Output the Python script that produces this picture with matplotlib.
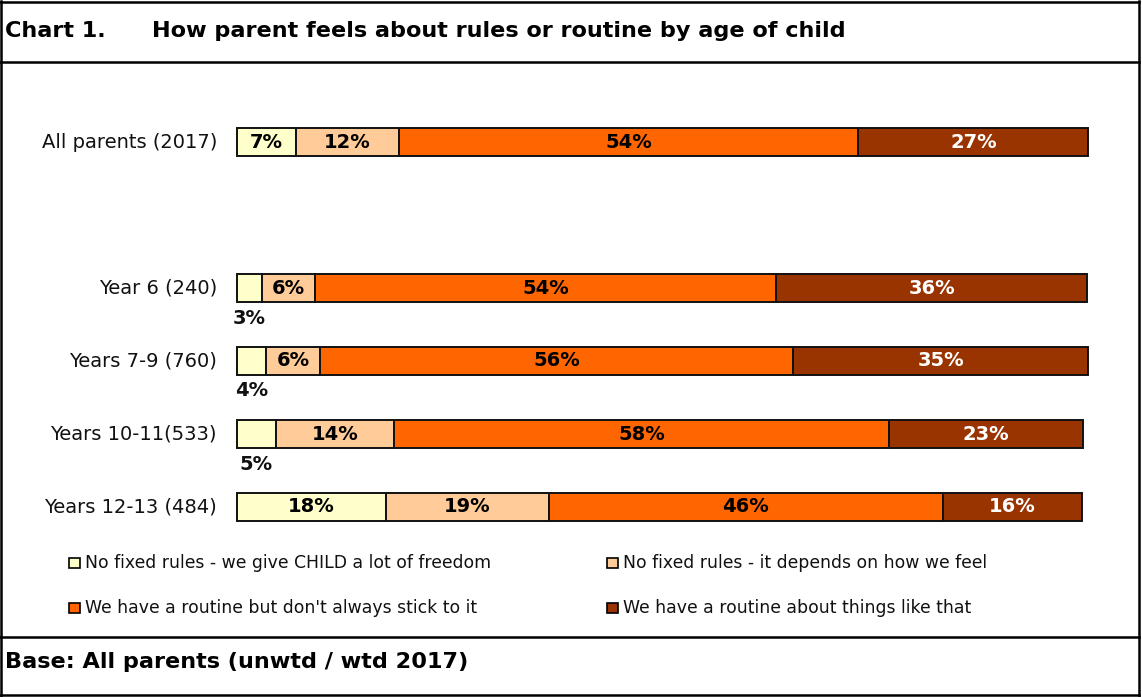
import matplotlib
matplotlib.use("Agg")
import matplotlib.pyplot as plt
from matplotlib.patches import Rectangle
from matplotlib.lines import Line2D

# ---- data ----
categories = ["All parents (2017)", "Year 6 (240)", "Years 7-9 (760)",
              "Years 10-11(533)", "Years 12-13 (484)"]
slots = [0, 2, 3, 4, 5]
series_names = ["No fixed rules - we give CHILD a lot of freedom",
                "No fixed rules - it depends on how we feel",
                "We have a routine but don't always stick to it",
                "We have a routine about things like that"]
free_vals = [7.0, 3.0, 3.5, 4.6, 17.5]
depends_vals = [12.0, 6.2, 6.3, 13.9, 19.1]
routine_loose_vals = [53.9, 54.1, 55.5, 58.0, 46.2]
routine_vals = [27.0, 36.4, 34.6, 22.8, 16.4]
free_labels = ["7%", "3%", "4%", "5%", "18%"]
depends_labels = ["12%", "6%", "6%", "14%", "19%"]
routine_loose_labels = ["54%", "54%", "56%", "58%", "46%"]
routine_labels = ["27%", "36%", "35%", "23%", "16%"]

colors = ["#FFFFCC", "#FFCC99", "#FF6600", "#993300"]
text_colors = ["black", "black", "black", "white"]

W, H = 1142, 697
fig = plt.figure(figsize=(W / 100, H / 100), dpi=100)

# axes: x 0..100 -> px 236.5..1089.3 ; slot p -> y px 142 + 73 p
ax_top, ax_bot = 100, 540
ax = fig.add_axes([236.5 / W, 1 - ax_bot / H, (1089.3 - 236.5) / W, (ax_bot - ax_top) / H])
ax.set_xlim(0, 100)
ax.set_ylim((ax_bot - 142) / 73, (ax_top - 142) / 73)
ax.axis("off")

all_vals = [free_vals, depends_vals, routine_loose_vals, routine_vals]
all_labels = [free_labels, depends_labels, routine_loose_labels, routine_labels]
bar_h = 28 / 73
left = [0.0] * len(categories)
for s, (vals, labs) in enumerate(zip(all_vals, all_labels)):
    bars = ax.barh(slots, vals, left=left, height=bar_h, color=colors[s],
                   edgecolor="#111111", linewidth=1.4)
    for b in bars:
        b.set_clip_on(False)
    for i, (v, lab) in enumerate(zip(vals, labs)):
        cx = left[i] + v / 2
        if v < 5:
            ax.text(cx, slots[i] + 30 / 73, lab, ha="center", va="center",
                    fontsize=14, fontweight="bold", color="#111111",
                    family="DejaVu Sans")
        else:
            ax.text(cx, slots[i], lab, ha="center", va="center",
                    fontsize=14, fontweight="bold", color=text_colors[s],
                    family="DejaVu Sans")
    left = [l + v for l, v in zip(left, vals)]

for i, cat in enumerate(categories):
    ax.text(-2.3, slots[i], cat, ha="right", va="center", fontsize=14,
            color="#111111", family="DejaVu Sans")

# legend (manual)
leg_pos = [(69, 563), (607, 563), (69, 608), (607, 608)]
for (px, py), name, c in zip(leg_pos, series_names, colors):
    fig.patches.append(Rectangle((px / W, 1 - (py + 5) / H), 11 / W, 10 / H,
                                 transform=fig.transFigure, facecolor=c,
                                 edgecolor="black", linewidth=1.2))
    fig.text((px + 16) / W, 1 - py / H, name, ha="left", va="center",
             fontsize=12.4, color="#111111", family="DejaVu Sans")

# title & footer
title_font = dict(fontsize=16.1, fontweight="bold", family="DejaVu Sans", color="black")
fig.text(5 / W, 1 - 37 / H, "Chart 1.", ha="left", va="baseline", **title_font)
fig.text(152 / W, 1 - 37 / H, "How parent feels about rules or routine by age of child",
         ha="left", va="baseline", **title_font)
fig.text(5 / W, 1 - 668 / H, "Base: All parents (unwtd / wtd 2017)",
         ha="left", va="baseline", **title_font)

# frame lines
def hline(y, x0=0, x1=1139):
    fig.add_artist(Line2D([x0 / W, x1 / W], [1 - y / H, 1 - y / H], color="black",
                          linewidth=1.8, transform=fig.transFigure))

def vline(x, y0=0, y1=697):
    fig.add_artist(Line2D([x / W, x / W], [1 - y0 / H, 1 - y1 / H], color="black",
                          linewidth=1.8, transform=fig.transFigure))

hline(2)
hline(62)
hline(637)
hline(695)
vline(1138.5, 1, 696)
vline(0.8, 1, 696)

fig.savefig("out.png", dpi=100)
